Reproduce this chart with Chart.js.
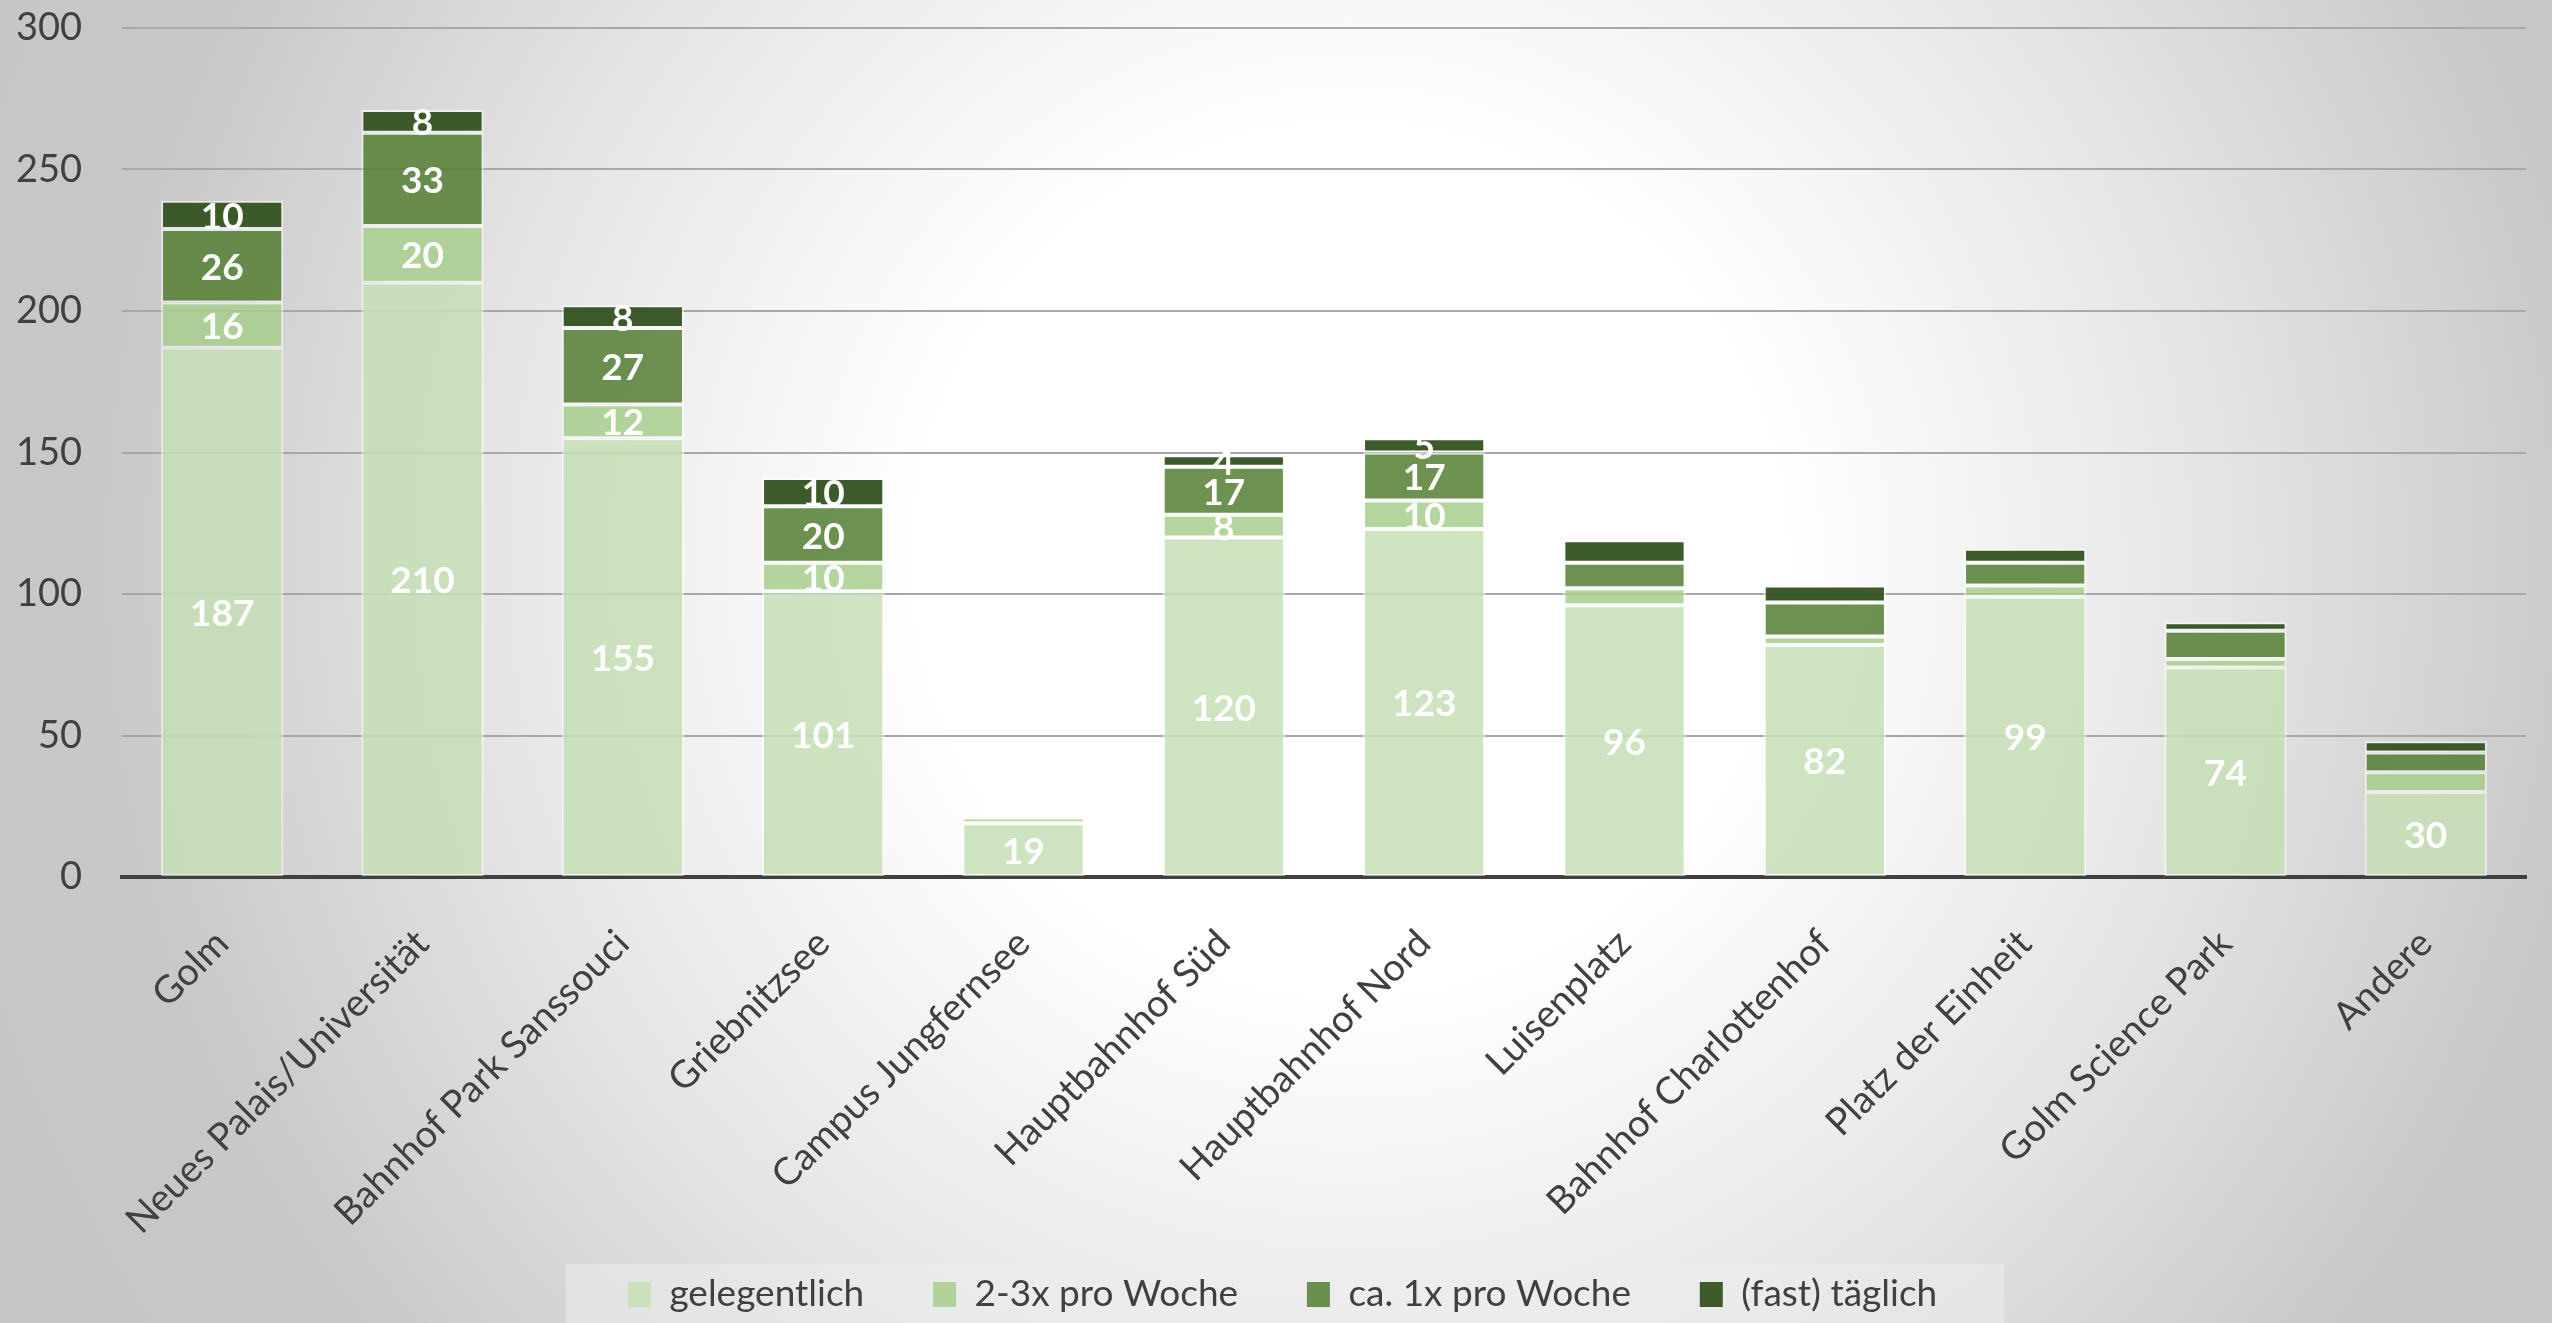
<!DOCTYPE html>
<html>
<head>
<meta charset="utf-8">
<script src="https://cdn.jsdelivr.net/npm/chart.js@4.4.1/dist/chart.umd.min.js"></script>
<style>
    html, body { margin: 0; padding: 0; }
    body {
        width: 2552px;
        height: 1323px;
        overflow: hidden;
        background: radial-gradient(circle at 1350px 560px, #ffffff 0px, #ffffff 430px, #e6e6e6 850px, #c8c8c8 1250px, #c4c4c4 1700px);
    }
</style>
</head>
<body>
<canvas id="myChart" width="2552" height="1323"></canvas>
<script>
// Categories (stations) and the four frequency series
const kategorien = ['Golm', 'Neues Palais/Universität', 'Bahnhof Park Sanssouci', 'Griebnitzsee',
    'Campus Jungfernsee', 'Hauptbahnhof Süd', 'Hauptbahnhof Nord', 'Luisenplatz',
    'Bahnhof Charlottenhof', 'Platz der Einheit', 'Golm Science Park', 'Andere'];
const gelegentlich = [187, 210, 155, 101, 19, 120, 123, 96, 82, 99, 74, 30];
const zweiDreiProWoche = [16, 20, 12, 10, 2, 8, 10, 6, 3, 4, 3, 7];
const einmalProWoche = [26, 33, 27, 20, 1, 17, 17, 9, 12, 8, 10, 7];
const fastTaeglich = [10, 8, 8, 10, 1, 4, 5, 8, 6, 5, 3, 4];
const yTicks = [0, 50, 100, 150, 200, 250, 300];

// bars where every segment carries a label (others only show the bottom one)
const alleBeschriftet = ['Golm', 'Neues Palais/Universität', 'Bahnhof Park Sanssouci',
    'Griebnitzsee', 'Hauptbahnhof Süd', 'Hauptbahnhof Nord'];

const fontFamily = 'Lato, "Open Sans", sans-serif';
const textColor = '#404040';

// white value labels in the middle of the segments
const barLabels = {
    id: 'barLabels',
    afterDatasetsDraw(chart) {
        const ctx = chart.ctx;
        ctx.save();
        ctx.font = 'bold 37px ' + fontFamily;
        ctx.fillStyle = '#ffffff';
        ctx.textAlign = 'center';
        ctx.textBaseline = 'middle';
        chart.data.datasets.forEach((ds, di) => {
            chart.getDatasetMeta(di).data.forEach((bar, i) => {
                if (di > 0 && !alleBeschriftet.includes(kategorien[i])) return;
                ctx.fillText(ds.data[i], bar.x, (bar.y + bar.base) / 2 + 2);
            });
        });
        ctx.restore();
    }
};

// light box behind the legend, legend nudged to the right like the original
const legendBox = {
    id: 'legendBox',
    afterLayout(chart) {
        const lg = chart.legend;
        if (!lg) return;
        lg.left += 48;
        lg.right += 48;
    },
    beforeDraw(chart) {
        const lg = chart.legend;
        if (!lg || !lg.legendHitBoxes || !lg.legendHitBoxes.length) return;
        const boxes = lg.legendHitBoxes;
        const left = boxes[0].left - 62;
        const right = boxes[boxes.length - 1].left + boxes[boxes.length - 1].width + 10;
        const ctx = chart.ctx;
        ctx.save();
        ctx.fillStyle = 'rgba(236, 236, 236, 0.55)';
        ctx.fillRect(left, lg.top, right - left, chart.height - lg.top);
        ctx.restore();
    }
};

const ctx = document.getElementById('myChart').getContext('2d');

new Chart(ctx, {
    type: 'bar',
    data: {
        labels: kategorien,
        datasets: [
            { label: 'gelegentlich', data: gelegentlich, backgroundColor: 'rgba(198, 222, 181, 0.85)' },
            { label: '2-3x pro Woche', data: zweiDreiProWoche, backgroundColor: 'rgba(167, 207, 141, 0.85)' },
            { label: 'ca. 1x pro Woche', data: einmalProWoche, backgroundColor: 'rgba(82, 126, 49, 0.85)' },
            { label: '(fast) täglich', data: fastTaeglich, backgroundColor: 'rgba(55, 86, 35, 0.97)' }
        ].map(ds => Object.assign(ds, {
            borderColor: 'rgba(255, 255, 255, 0.55)',
            borderWidth: 2,
            borderSkipped: false,
            barPercentage: 0.61,
            categoryPercentage: 1
        }))
    },
    options: {
        responsive: false,
        animation: false,
        layout: { padding: { top: 0, right: 26, bottom: 0, left: 0 } },
        scales: {
            x: {
                stacked: true,
                grid: { display: false, drawTicks: false },
                border: { display: true, color: '#404040', width: 4 },
                ticks: {
                    autoSkip: false,
                    maxRotation: 45,
                    minRotation: 45,
                    padding: 44,
                    color: textColor,
                    font: { family: fontFamily, size: 38 }
                },
                afterFit: s => { s.height = 387; }
            },
            y: {
                stacked: true,
                min: 0,
                max: 300,
                afterBuildTicks: s => { s.ticks = yTicks.map(v => ({ value: v })); },
                grid: { color: '#a8a8a8', lineWidth: 2, drawTicks: false },
                border: { display: false },
                ticks: {
                    padding: 40,
                    color: textColor,
                    font: { family: fontFamily, size: 38 }
                },
                afterFit: s => {
                    s.width = 122;
                    s.paddingTop = 28;
                    s.paddingBottom = 20;
                }
            }
        },
        plugins: {
            tooltip: { enabled: false },
            legend: {
                position: 'bottom',
                labels: {
                    color: textColor,
                    font: { family: fontFamily, size: 37 },
                    boxWidth: 23,
                    boxHeight: 25,
                    padding: 12,
                    generateLabels(chart) {
                        const items = Chart.defaults.plugins.legend.labels.generateLabels(chart);
                        items.forEach(it => {
                            it.text = it.text + '\u00a0'.repeat(6);
                            it.lineWidth = 0;
                        });
                        return items;
                    }
                }
            }
        }
    },
    plugins: [legendBox, barLabels]
});
</script>
</body>
</html>
